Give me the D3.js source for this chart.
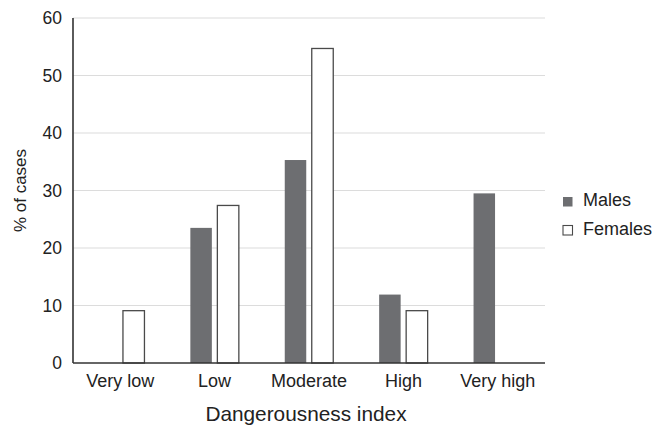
<!DOCTYPE html>
<html>
<head>
<meta charset="utf-8">
<script src="https://cdn.jsdelivr.net/npm/d3@7"></script>
<style>
  body { margin: 0; background: #fff; }
  text { font-family: "Liberation Sans", Arial, sans-serif; fill: #222; }
</style>
</head>
<body>
<svg id="chart" width="663" height="438"></svg>
<script>
const categories = ["Very low", "Low", "Moderate", "High", "Very high"];
const series = ["Males", "Females"];
const males = [0, 23.5, 35.3, 11.9, 29.5];
const females = [9.1, 27.4, 54.7, 9.1, 0];
const yTicks = [0, 10, 20, 30, 40, 50, 60];
const seriesValues = { Males: males, Females: females };

const svg = d3.select("#chart");
const pLeft = 73, pRight = 545, pTop = 18, pBottom = 363;

const x0 = d3.scaleBand().domain(categories).range([pLeft, pRight]).padding(0);
const x1 = d3.scaleBand().domain(series).range([0, x0.bandwidth()])
  .paddingInner(0.204).paddingOuter(0.85);
const y = d3.scaleLinear().domain([0, 60]).range([pBottom, pTop]);

// gridlines
svg.append("g").selectAll("line").data(yTicks.filter(t => t > 0)).join("line")
  .attr("x1", pLeft).attr("x2", pRight)
  .attr("y1", d => y(d)).attr("y2", d => y(d))
  .attr("stroke", "#dcdcdc").attr("stroke-width", 1.2);

// bars
const fills = { Males: "#6d6e71", Females: "#ffffff" };
categories.forEach((c, i) => {
  series.forEach(s => {
    const v = seriesValues[s][i];
    if (v <= 0) return;
    const r = svg.append("rect")
      .attr("x", x0(c) + x1(s))
      .attr("width", x1.bandwidth())
      .attr("y", y(v))
      .attr("height", y(0) - y(v))
      .attr("fill", fills[s]);
    if (s === "Females") r.attr("stroke", "#4a4a4a").attr("stroke-width", 1.3);
  });
});

// y axis
const yAxis = d3.axisLeft(y).tickValues(yTicks).tickSize(0).tickPadding(11);
const gy = svg.append("g").attr("transform", `translate(${pLeft},0)`).call(yAxis);
gy.select(".domain").remove();
gy.selectAll("text").style("font-size", "17.5px").attr("fill", "#222")
  .style("font-family", "'Liberation Sans', Arial, sans-serif");

// x axis
const xAxis = d3.axisBottom(x0).tickSize(0).tickPadding(11);
const gx = svg.append("g").attr("transform", `translate(0,${pBottom})`).call(xAxis);
gx.select(".domain").remove();
gx.selectAll("text").style("font-size", "18px").attr("fill", "#222")
  .style("font-family", "'Liberation Sans', Arial, sans-serif");

// axis lines
svg.append("line").attr("x1", pLeft).attr("x2", pLeft).attr("y1", pTop).attr("y2", pBottom)
  .attr("stroke", "#333").attr("stroke-width", 1.6);
svg.append("line").attr("x1", pLeft).attr("x2", pRight).attr("y1", pBottom).attr("y2", pBottom)
  .attr("stroke", "#333").attr("stroke-width", 1.6);

// axis titles
svg.append("text").attr("x", 306).attr("y", 421)
  .attr("text-anchor", "middle").style("font-size", "20.8px").text("Dangerousness index");
svg.append("text").attr("transform", `translate(26,${(pTop + pBottom) / 2}) rotate(-90)`)
  .attr("text-anchor", "middle").style("font-size", "17px").text("% of cases");

// legend
const legend = svg.append("g").selectAll("g").data(series).join("g")
  .attr("transform", (d, i) => `translate(563,${197 + i * 28.5})`);
legend.append("rect").attr("width", 9.5).attr("height", 9.5)
  .attr("fill", d => fills[d])
  .attr("stroke", d => d === "Females" ? "#4a4a4a" : "none").attr("stroke-width", 1.1);
legend.append("text").attr("x", 20).attr("y", 9).style("font-size", "18px").text(d => d);
</script>
</body>
</html>
